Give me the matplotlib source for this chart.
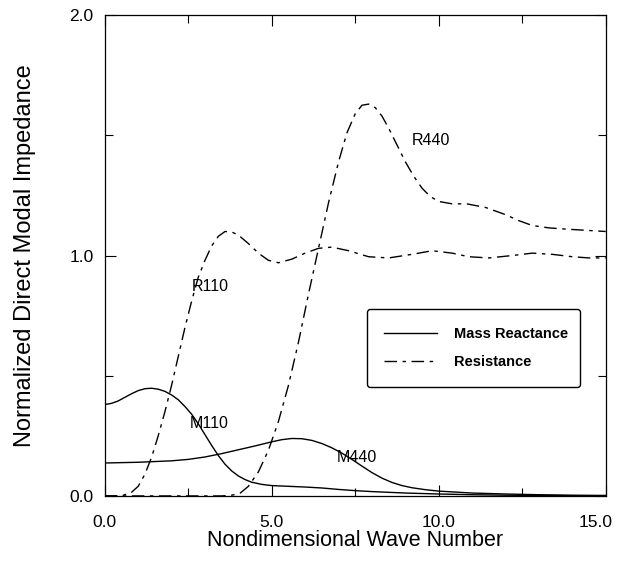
import matplotlib
matplotlib.use("Agg")
import matplotlib.pyplot as plt
from matplotlib.ticker import MultipleLocator, FixedLocator
from matplotlib.transforms import ScaledTranslation

plt.rcParams.update({"font.family": ["Liberation Sans", "DejaVu Sans"]})

# mass reactance curves
m110_x = [0, 0.2, 0.4, 0.6, 0.8, 1.0, 1.2, 1.4, 1.6, 1.8, 2.0, 2.2, 2.4, 2.6,
          2.8, 3.0, 3.2, 3.4, 3.6, 3.8, 4.0, 4.2, 4.4, 4.7, 5.0, 5.5, 6.0,
          6.5, 7.0, 7.5, 8.0, 9.0, 10, 11, 12, 13, 14, 15]
m110_y = [0.38, 0.385, 0.395, 0.41, 0.425, 0.438, 0.446, 0.448, 0.444, 0.435,
          0.42, 0.40, 0.372, 0.34, 0.30, 0.255, 0.21, 0.168, 0.132, 0.104,
          0.083, 0.068, 0.057, 0.048, 0.043, 0.04, 0.037, 0.033, 0.027, 0.022,
          0.018, 0.012, 0.008, 0.005, 0.003, 0.002, 0.001, 0.0]
m440_x = [0, 1, 2, 2.5, 3, 3.5, 4, 4.5, 5.0, 5.3, 5.6, 5.9, 6.2, 6.5, 6.8, 7.1,
          7.4, 7.7, 8.0, 8.3, 8.6, 8.9, 9.2, 9.6, 10, 11, 12, 13, 14, 15]
m440_y = [0.137, 0.14, 0.146, 0.152, 0.162, 0.176, 0.192, 0.208, 0.225, 0.234,
          0.239, 0.238, 0.231, 0.218, 0.2, 0.178, 0.152, 0.124, 0.097, 0.074,
          0.056, 0.043, 0.034, 0.026, 0.02, 0.012, 0.008, 0.005, 0.003, 0.002]

# resistance curves
r110_x = [0, 0.5, 0.8, 1.0, 1.2, 1.4, 1.6, 1.8, 2.0, 2.2, 2.4, 2.6, 2.8, 3.0,
          3.2, 3.4, 3.6, 3.8, 4.0, 4.3, 4.6, 4.9, 5.2, 5.6, 6.0, 6.4, 6.8,
          7.3, 7.9, 8.5, 9.2, 9.8, 10.4, 10.9, 11.5, 12.2, 12.8, 13.4, 14.0,
          14.5, 15]
r110_y = [0, 0, 0.015, 0.04, 0.09, 0.16, 0.25, 0.35, 0.46, 0.58, 0.70, 0.81,
          0.91, 0.98, 1.04, 1.08, 1.10, 1.098, 1.085, 1.05, 1.01, 0.98, 0.97,
          0.985, 1.01, 1.03, 1.035, 1.02, 0.995, 0.99, 1.005, 1.02, 1.01,
          0.995, 0.99, 1.0, 1.01, 1.005, 0.995, 0.99, 0.99]
r440_x = [0, 3.5, 3.8, 4.04, 4.3, 4.6, 4.9, 5.2, 5.5, 5.8, 6.1, 6.4, 6.7, 7.0,
          7.25, 7.5, 7.7, 7.9, 8.1, 8.3, 8.5, 8.75, 9.0, 9.25, 9.5, 9.75, 10.0,
          10.4, 10.84, 11.4, 12.0, 12.4, 12.8, 13.3, 13.8, 14.4, 15]
r440_y = [0, 0, 0.003, 0.01, 0.04, 0.1, 0.19, 0.31, 0.46, 0.64, 0.84, 1.03,
          1.22, 1.39, 1.51, 1.59, 1.625, 1.63, 1.615, 1.58, 1.53, 1.46, 1.39,
          1.33, 1.28, 1.245, 1.225, 1.215, 1.215, 1.2, 1.17, 1.145, 1.125,
          1.115, 1.11, 1.105, 1.10]

labels = {"R440": (9.2, 1.48), "R110": (2.6, 0.87), "M110": (2.55, 0.30),
          "M440": (6.95, 0.158)}

DASH = (0, (9, 4, 2.5, 4))

fig = plt.figure(figsize=(6.2, 5.61), dpi=100)
ax = fig.add_axes([0.169, 0.116, 0.808, 0.857])

ax.plot(m110_x, m110_y, color="black", lw=1.0, label="Mass Reactance")
ax.plot(m440_x, m440_y, color="black", lw=1.0)
ax.plot(r110_x, r110_y, color="black", lw=1.0, ls=DASH, label="Resistance")
ax.plot(r440_x, r440_y, color="black", lw=1.0, ls=DASH)

for txt, (x, y) in labels.items():
    ax.text(x, y, txt, fontsize=11.5, va="center", ha="left")

ax.set_xlim(0, 15)
ax.set_ylim(0, 2)
ax.xaxis.set_major_locator(FixedLocator([0, 5, 10, 15]))
ax.xaxis.set_minor_locator(MultipleLocator(2.5))
ax.yaxis.set_major_locator(FixedLocator([0, 1, 2]))
ax.yaxis.set_minor_locator(MultipleLocator(0.5))
ax.set_xticklabels(["0.0", "5.0", "10.0", "15.0"])
ax.set_yticklabels(["0.0", "1.0", "2.0"])
ax.tick_params(which="both", direction="in", top=True, right=True,
               labelsize=12.5, width=0.8)
ax.tick_params(axis="x", pad=14)
ax.tick_params(axis="y", pad=8)
ax.tick_params(which="major", length=8)
ax.tick_params(which="minor", length=6)
for s in ax.spines.values():
    s.set_linewidth(0.9)
# keep the last x tick label inside the canvas
last = ax.get_xticklabels()[-1]
last.set_transform(last.get_transform() + ScaledTranslation(-0.1, 0, fig.dpi_scale_trans))

ax.set_xlabel("Nondimensional Wave Number", fontsize=15.5, labelpad=0)
ax.set_ylabel("Normalized Direct Modal Impedance", fontsize=17, labelpad=24)

leg = ax.legend(loc="lower left", bbox_to_anchor=(0.523, 0.227, 0.425, 0.156),
                mode="expand", fancybox=True, edgecolor="black", framealpha=1,
                prop={"size": 10.5, "weight": "bold"}, handlelength=3.6,
                borderpad=1.2, labelspacing=1.0, handletextpad=1.2,
                borderaxespad=0)
leg.get_frame().set_linewidth(1.0)

fig.savefig("out.png", dpi=100)
